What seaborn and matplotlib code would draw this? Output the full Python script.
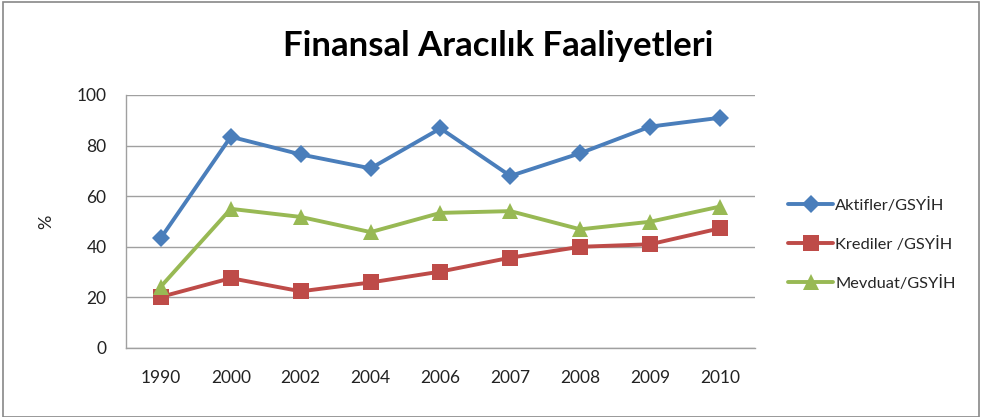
import matplotlib
matplotlib.use("Agg")
import matplotlib.pyplot as plt
import seaborn as sns
import pandas as pd
from matplotlib.patches import Rectangle
from matplotlib.lines import Line2D

years = ["1990", "2000", "2002", "2004", "2006", "2007", "2008", "2009", "2010"]
aktifler = [43.5, 83.5, 76.5, 71.0, 86.8, 68.0, 77.0, 87.5, 91.0]
krediler = [20.2, 27.6, 22.4, 25.9, 30.2, 35.7, 40.0, 41.0, 47.3]
mevduat = [24.3, 55.0, 51.8, 45.8, 53.4, 54.1, 46.9, 49.9, 55.9]
series_names = ["Aktifler/GSYİH", "Krediler /GSYİH", "Mevduat/GSYİH"]
yticks = [0, 20, 40, 60, 80, 100]

sns.set_theme(style="white")
plt.rcParams['font.family'] = ['Lato', 'DejaVu Sans']

df = pd.DataFrame({
    "year": years * 3,
    "value": aktifler + krediler + mevduat,
    "series": [series_names[0]] * len(years) + [series_names[1]] * len(years) + [series_names[2]] * len(years),
})

palette = {series_names[0]: "#4A7EBB", series_names[1]: "#BE4B48", series_names[2]: "#98B954"}
markers = {series_names[0]: "D", series_names[1]: "s", series_names[2]: "^"}
msizes = [9, 11, 11]

fig = plt.figure(figsize=(9.81, 4.17), dpi=100)
fig.patch.set_facecolor("white")
ax = fig.add_axes([0.1284, 0.1655, 0.6412, 0.6067])

sns.lineplot(data=df, x="year", y="value", hue="series", style="series",
             palette=palette, markers=markers, dashes=False, sort=False,
             linewidth=2.8, markersize=9, markeredgewidth=0, ax=ax, legend=False)

for line, ms in zip(ax.get_lines(), msizes):
    line.set_markersize(ms)

ax.set_xlim(-0.5, len(years) - 0.5)
ax.set_ylim(0, 100)
ax.set_yticks(yticks)
ax.set_yticklabels([str(t) for t in yticks])
ax.set_xlabel("")
ax.set_ylabel("%", fontsize=13, color="#222222", labelpad=16)
ax.yaxis.grid(True, color="#A0A0A0", linewidth=1.0)
ax.xaxis.grid(False)
ax.set_axisbelow(True)
for s in ["top", "right"]:
    ax.spines[s].set_visible(False)
ax.spines["left"].set_color("#A0A0A0")
ax.spines["bottom"].set_color("#A0A0A0")
ax.spines["left"].set_linewidth(1.0)
ax.spines["bottom"].set_linewidth(1.0)
ax.tick_params(axis="both", length=0, labelsize=12.5, colors="#222222")
ax.tick_params(axis="x", pad=16)
ax.tick_params(axis="y", pad=14)

handles = []
for name, ms in zip(series_names, msizes):
    handles.append(Line2D([0], [0], color=palette[name], marker=markers[name],
                          markersize=ms, linewidth=2.8, markeredgewidth=0))
leg = fig.legend(handles, series_names, loc="center left", bbox_to_anchor=(0.797, 0.414),
                 frameon=False, fontsize=11.8, handlelength=2.75, handletextpad=0.1,
                 labelspacing=1.45, borderaxespad=0)

fig.text(0.508, 0.89, "Finansal Aracılık Faaliyetleri", ha="center", va="center",
         fontsize=25, fontweight="bold", color="black")

fig.patches.append(Rectangle((0.003, 0.0), 0.995, 0.995, transform=fig.transFigure,
                             fill=False, edgecolor="#888888", linewidth=1.2))

fig.savefig("out.png", dpi=100)
